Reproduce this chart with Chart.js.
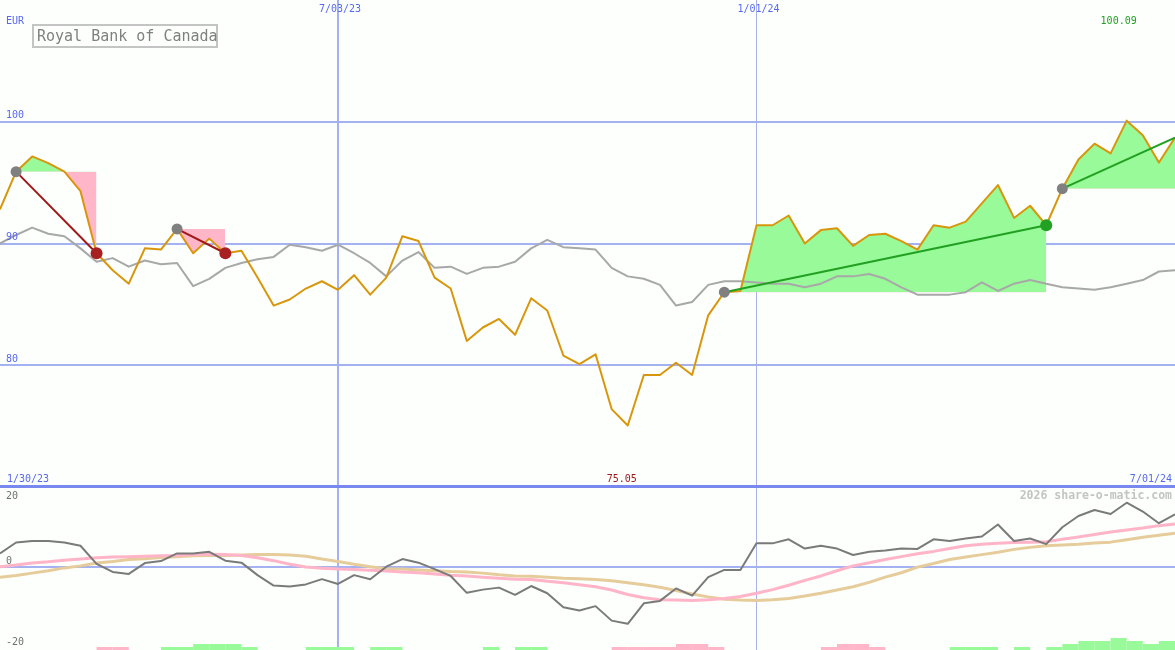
<!DOCTYPE html>
<html lang="en">
<head>
<meta charset="UTF-8">
<title>Royal Bank of Canada</title>
<script src="https://cdn.jsdelivr.net/npm/chart.js@4.4.1/dist/chart.umd.min.js"></script>
<style>
  html, body { margin: 0; padding: 0; background: #fcfffc; }
  #wrap { position: relative; width: 1175px; height: 650px; overflow: hidden; background: #fcfffc; }
  #priceChart { position: absolute; left: 0; top: 0; }
  #oscChart { position: absolute; left: 0; top: 487px; }
  #divider { position: absolute; left: 0; top: 485px; width: 1175px; height: 3px; background: #7888ee; }
  #title {
    position: absolute; left: 32px; top: 24px; width: 179px; height: 20px;
    border: 2px solid #c4c4c4; padding-left: 3px;
    font: 15px "DejaVu Sans Mono", monospace; line-height: 21px;
    color: #808080; white-space: nowrap;
  }
</style>
</head>
<body>
<div id="wrap">
  <canvas id="priceChart" width="1175" height="487"></canvas>
  <canvas id="oscChart" width="1175" height="163"></canvas>
  <div id="divider"></div>
  <div id="title">Royal Bank of Canada</div>
</div>
<script>
// weekly points, index 0 = 1/30/23 ... index 73 = 7/01/24
const startLabel = '1/30/23';
const endLabel = '7/01/24';
const dateTickIdx = [21, 47];
const dateTickLabels = ['7/03/23', '1/01/24'];
const priceGrid = [80, 90, 100];
const oscGrid = [20, 0, -20];

// share price (EUR)
const price = [
  92.8, 95.9, 97.15, 96.6, 95.9, 94.3, 89.2, 87.8, 86.7, 89.6,
  89.5, 91.2, 89.2, 90.4, 89.2, 89.4, 87.2, 84.9, 85.4, 86.3,
  86.9, 86.2, 87.4, 85.8, 87.2, 90.6, 90.2, 87.2, 86.3, 82.0,
  83.1, 83.8, 82.5, 85.5, 84.5, 80.8, 80.1, 80.9, 76.4, 75.05,
  79.2, 79.2, 80.2, 79.2, 84.1, 86.0, 86.1, 91.5, 91.5, 92.3,
  90.0, 91.1, 91.25, 89.8, 90.7, 90.8, 90.2, 89.5, 91.5, 91.3,
  91.8, 93.3, 94.8, 92.1, 93.1, 91.5, 94.5, 96.9, 98.2, 97.4,
  100.09, 98.9, 96.65, 98.7
];
// comparison index, rebased
const benchmark = [
  90.0, 90.7, 91.3, 90.8, 90.6, 89.6, 88.5, 88.8, 88.1, 88.6,
  88.3, 88.4, 86.5, 87.1, 88.0, 88.4, 88.7, 88.9, 89.9, 89.7,
  89.4, 89.9, 89.2, 88.4, 87.3, 88.6, 89.3, 88.0, 88.1, 87.5,
  88.0, 88.1, 88.5, 89.6, 90.3, 89.7, 89.6, 89.5, 88.0, 87.3,
  87.1, 86.6, 84.9, 85.2, 86.6, 86.9, 86.9, 86.8, 86.7, 86.7,
  86.4, 86.7, 87.3, 87.3, 87.5, 87.1, 86.4, 85.8, 85.8, 85.8,
  86.0, 86.8, 86.1, 86.7, 87.0, 86.7, 86.4, 86.3, 86.2, 86.4,
  86.7, 87.0, 87.7, 87.8
];
// trade signals (week index of entry / exit)
const signalStart = [1, 11, 45, 66];
const signalEnd = [6, 14, 65, 73];
const signalOpen = [false, false, false, true];

// lower panel
const momentum = [
  3.5, 6.2, 6.6, 6.6, 6.2, 5.4, 0.9, -1.1, -1.6, 1.1,
  1.6, 3.5, 3.5, 3.9, 1.7, 1.2, -1.9, -4.5, -4.7, -4.2,
  -2.9, -4.1, -1.9, -2.9, 0.2, 2.1, 1.2, -0.4, -2.1, -6.3,
  -5.5, -5.0, -6.8, -4.6, -6.4, -9.9, -10.7, -9.6, -13.2, -14.0,
  -8.9, -8.3, -5.2, -7.0, -2.4, -0.6, -0.6, 6.0, 6.0, 7.0,
  4.7, 5.4, 4.7, 3.1, 3.9, 4.2, 4.7, 4.6, 7.0, 6.6,
  7.2, 7.7, 10.7, 6.6, 7.2, 5.8, 10.0, 12.8, 14.3, 13.3,
  16.1, 13.9, 11.0, 13.2
];
const avgFast = [
  0.2, 0.6, 1.1, 1.4, 1.8, 2.1, 2.4, 2.6, 2.7, 2.8,
  2.9, 3.0, 3.2, 3.3, 3.2, 3.0, 2.4, 1.7, 0.8, 0.1,
  -0.2, -0.4, -0.5, -0.7, -0.9, -1.1, -1.3, -1.6, -1.9, -2.1,
  -2.4, -2.7, -2.9, -3.0, -3.4, -3.8, -4.3, -4.8, -5.6, -6.7,
  -7.5, -8.0, -8.1, -8.2, -8.0, -7.7, -7.2, -6.4, -5.5, -4.4,
  -3.2, -2.1, -0.8, 0.4, 1.2, 2.0, 2.7, 3.4, 4.0, 4.7,
  5.4, 5.8, 6.0, 6.2, 6.3, 6.4, 7.0, 7.6, 8.2, 8.8,
  9.3, 9.8, 10.4, 10.8
];
const avgSlow = [
  -2.4, -2.0, -1.4, -0.8, -0.1, 0.4, 1.1, 1.5, 2.0, 2.2,
  2.5, 2.7, 2.9, 3.0, 3.0, 3.1, 3.2, 3.2, 3.1, 2.8,
  2.1, 1.5, 0.8, 0.2, -0.3, -0.4, -0.6, -0.8, -1.0, -1.1,
  -1.4, -1.8, -2.1, -2.2, -2.4, -2.7, -2.8, -3.0, -3.3, -3.8,
  -4.3, -4.9, -5.7, -6.6, -7.3, -7.9, -8.1, -8.2, -8.0, -7.7,
  -7.1, -6.4, -5.6, -4.8, -3.7, -2.4, -1.3, 0.1, 1.0, 2.0,
  2.6, 3.2, 3.8, 4.5, 5.0, 5.4, 5.6, 5.8, 6.1, 6.3,
  6.9, 7.5, 8.0, 8.5
];
// signal strength bars (+ green, - pink)
const volSignal = [
  0, 0, 0, 0, 0, 0, -1, -1, 0, 0,
  1, 1, 2, 2, 2, 1, 0, 0, 0, 1,
  1, 1, 0, 1, 1, 0, 0, 0, 0, 0,
  1, 0, 1, 1, 0, 0, 0, 0, -1, -1,
  -1, -1, -2, -2, -1, 0, 0, 0, 0, 0,
  0, -1, -2, -2, -1, 0, 0, 0, 0, 1,
  1, 1, 0, 1, 0, 1, 2, 3, 3, 4,
  3, 2, 3, 0
];

const GRID = '#a4b2f2';
const BLUE = '#5868f0';
const FILL_UP = '#98fa98';
const FILL_DN = '#ffb6c8';
const UP = '#22a022';
const DOWN = '#a01818';
const FONT = '"DejaVu Sans Mono", "Liberation Mono", monospace';

const pts = (arr, a, b) => arr.slice(a, b + 1).map((v, k) => ({ x: a + k, y: v }));

function drawGrid(chart, hVals) {
  const { ctx, chartArea: a, scales } = chart;
  const x = scales.x, y = scales.y;
  ctx.save();
  ctx.strokeStyle = GRID;
  ctx.lineWidth = 2;
  hVals.forEach(v => {
    const py = Math.round(y.getPixelForValue(v));
    ctx.beginPath(); ctx.moveTo(a.left, py); ctx.lineTo(a.right, py); ctx.stroke();
  });
  dateTickIdx.forEach((d, i) => {
    const px = x.getPixelForValue(d);
    const xx = i === 0 ? Math.round(px) : Math.floor(px) + 0.5;
    ctx.lineWidth = i === 0 ? 2 : 1;
    ctx.strokeStyle = i === 0 ? GRID : '#a9b1e6';
    ctx.beginPath(); ctx.moveTo(xx, a.top); ctx.lineTo(xx, a.bottom); ctx.stroke();
  });
  ctx.restore();
}

// price panel datasets
const priceSets = [];
signalStart.forEach((s, k) => {
  const e = signalEnd[k];
  const up = price[e] >= price[s];
  priceSets.push({
    data: pts(price, s, e), borderWidth: 0, pointRadius: 0,
    fill: { target: { value: price[s] }, above: FILL_UP, below: FILL_DN }, order: 10
  });
  priceSets.push({
    data: [{ x: s, y: price[s] }, { x: e, y: price[e] }],
    borderColor: up ? UP : DOWN, borderWidth: 2, pointRadius: 0, order: 1
  });
});
const markerPts = [], markerCols = [], markerRad = [];
signalStart.forEach((s, k) => {
  markerPts.push({ x: s, y: price[s] }); markerCols.push('#808080'); markerRad.push(5.5);
  if (!signalOpen[k]) {
    const e = signalEnd[k];
    markerPts.push({ x: e, y: price[e] });
    markerCols.push(price[e] >= price[s] ? UP : '#a82020'); markerRad.push(6);
  }
});
priceSets.push({
  data: markerPts, showLine: false, pointRadius: markerRad,
  pointBackgroundColor: markerCols, pointBorderWidth: 0, order: 0
});
priceSets.push({
  data: pts(price, 0, price.length - 1), borderColor: '#d8960c', borderWidth: 2,
  pointRadius: 0, borderJoinStyle: 'round', order: 2
});
priceSets.push({
  data: pts(benchmark, 0, benchmark.length - 1), borderColor: '#a8a8a8', borderWidth: 2,
  pointRadius: 0, borderJoinStyle: 'round', order: 3
});

new Chart(document.getElementById('priceChart'), {
  type: 'line',
  data: { datasets: priceSets },
  options: {
    responsive: false, animation: false, devicePixelRatio: 1,
    layout: { padding: 0, autoPadding: false },
    elements: { line: { tension: 0 } },
    plugins: { legend: { display: false }, tooltip: { enabled: false } },
    scales: {
      x: { type: 'linear', min: 0, max: price.length - 1, offset: false, display: false },
      y: { min: 70, max: 110, display: false }
    }
  },
  plugins: [{
    id: 'priceDecor',
    beforeDatasetsDraw(chart) { drawGrid(chart, priceGrid); },
    afterDraw(chart) {
      const { ctx, chartArea: a, scales: { x, y } } = chart;
      ctx.save();
      ctx.font = '10px ' + FONT;
      ctx.textBaseline = 'middle';
      ctx.fillStyle = BLUE;
      ctx.textAlign = 'left';
      ctx.fillText('EUR', 6, a.top + 21);
      priceGrid.forEach(v => ctx.fillText(String(v), 6, y.getPixelForValue(v) - 6));
      ctx.fillText(startLabel, 7, a.bottom - 8);
      ctx.textAlign = 'center';
      dateTickIdx.forEach((d, i) => ctx.fillText(dateTickLabels[i], x.getPixelForValue(d) + 2, a.top + 9));
      ctx.textAlign = 'right';
      ctx.fillText(endLabel, a.right - 3, a.bottom - 8);
      const hi = Math.max(...price), lo = Math.min(...price);
      ctx.fillStyle = UP;
      ctx.fillText(hi.toFixed(2), x.getPixelForValue(price.indexOf(hi)) + 10, a.top + 21);
      ctx.fillStyle = DOWN;
      ctx.fillText(lo.toFixed(2), x.getPixelForValue(price.indexOf(lo)) + 9, a.bottom - 8);
      ctx.restore();
    }
  }]
});

// oscillator panel
new Chart(document.getElementById('oscChart'), {
  type: 'line',
  data: {
    datasets: [
      { data: pts(momentum, 0, momentum.length - 1), borderColor: '#7a7a7a', borderWidth: 2, pointRadius: 0, order: 1 },
      { data: pts(avgFast, 0, avgFast.length - 1), borderColor: '#ffb4c8', borderWidth: 3, pointRadius: 0, order: 2 },
      { data: pts(avgSlow, 0, avgSlow.length - 1), borderColor: '#e6cc9a', borderWidth: 3, pointRadius: 0, order: 3 },
      {
        type: 'bar', yAxisID: 'yb',
        data: volSignal.map((v, i) => ({ x: i + 0.5, y: Math.abs(v) })),
        backgroundColor: volSignal.map(v => v < 0 ? FILL_DN : FILL_UP),
        borderWidth: 0, barPercentage: 1, categoryPercentage: 1, inflateAmount: 0, order: 5
      }
    ]
  },
  options: {
    responsive: false, animation: false, devicePixelRatio: 1,
    layout: { padding: 0, autoPadding: false },
    elements: { line: { tension: 0, borderJoinStyle: 'round' } },
    plugins: { legend: { display: false }, tooltip: { enabled: false } },
    scales: {
      x: { type: 'linear', min: 0, max: price.length - 1, offset: false, display: false },
      y: { min: -20.5, max: 20, display: false },
      yb: { min: 0, max: 54.3, display: false }
    }
  },
  plugins: [{
    id: 'oscDecor',
    beforeDatasetsDraw(chart) { drawGrid(chart, [0]); },
    afterDraw(chart) {
      const { ctx, chartArea: a, scales: { y } } = chart;
      ctx.save();
      ctx.font = '10px ' + FONT;
      ctx.textBaseline = 'middle';
      ctx.fillStyle = '#707070';
      ctx.textAlign = 'left';
      oscGrid.forEach(v => {
        const py = Math.min(Math.max(y.getPixelForValue(v) - 6, a.top + 9), a.bottom - 8);
        ctx.fillText(String(v), 6, py);
      });
      ctx.font = 'bold 11.5px ' + FONT;
      ctx.fillStyle = '#c4c4c4';
      ctx.textAlign = 'right';
      ctx.fillText('2026 share-o-matic.com', a.right - 3, a.top + 9);
      ctx.restore();
    }
  }]
});
</script>
</body>
</html>
